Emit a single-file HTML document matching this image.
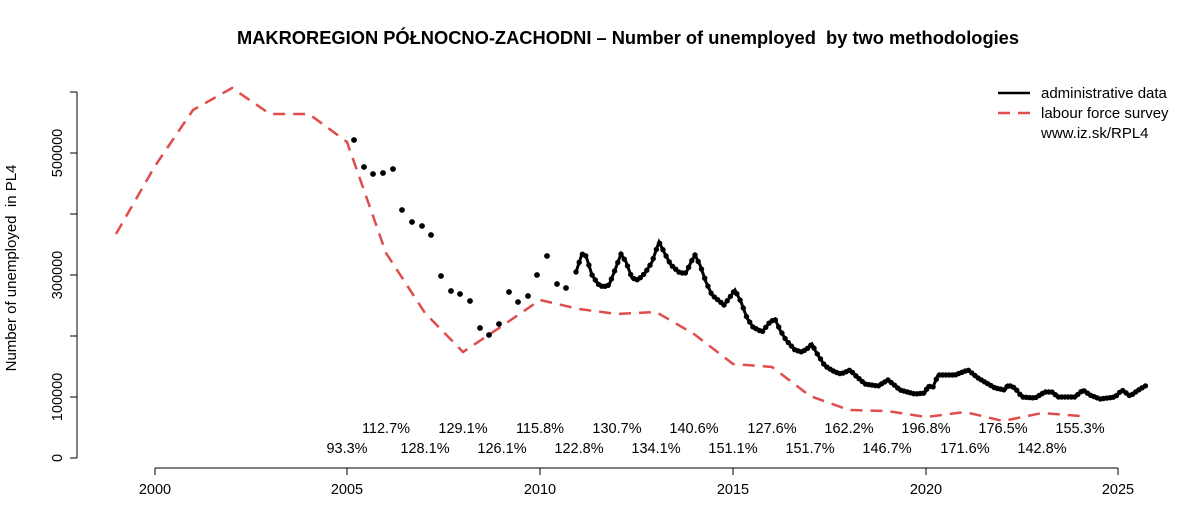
<!DOCTYPE html><html><head><style>body{margin:0;background:#fff}svg{font-family:"Liberation Sans",sans-serif}</style></head><body>
<svg id="s" width="1200" height="500" viewBox="0 0 1200 500" xmlns="http://www.w3.org/2000/svg">
<text x="628" y="44" font-size="18.3" font-weight="bold" text-anchor="middle">MAKROREGION PÓŁNOCNO-ZACHODNI – Number of unemployed&#160; by two methodologies</text>
<text transform="translate(16,268) rotate(-90)" font-size="15" text-anchor="middle">Number of unemployed&#160; in PL4</text>
<g stroke="#000" fill="none">
<line x1="77" y1="92" x2="77" y2="458"/>
<line x1="70" y1="458" x2="77" y2="458"/><line x1="70" y1="397" x2="77" y2="397"/><line x1="70" y1="336" x2="77" y2="336"/><line x1="70" y1="275" x2="77" y2="275"/><line x1="70" y1="214" x2="77" y2="214"/><line x1="70" y1="153" x2="77" y2="153"/><line x1="70" y1="92" x2="77" y2="92"/>
<line x1="155" y1="468" x2="1118" y2="468"/>
<line x1="155" y1="468" x2="155" y2="475"/><line x1="347" y1="468" x2="347" y2="475"/><line x1="540" y1="468" x2="540" y2="475"/><line x1="733" y1="468" x2="733" y2="475"/><line x1="926" y1="468" x2="926" y2="475"/><line x1="1118" y1="468" x2="1118" y2="475"/>
</g>
<g font-size="14.5" text-anchor="middle">
<text transform="translate(62,458) rotate(-90)">0</text>
<text transform="translate(62,397) rotate(-90)">100000</text>
<text transform="translate(62,275) rotate(-90)">300000</text>
<text transform="translate(62,153) rotate(-90)">500000</text>
<text x="155" y="494">2000</text><text x="347" y="494">2005</text><text x="540" y="494">2010</text><text x="733" y="494">2015</text><text x="926" y="494">2020</text><text x="1118" y="494">2025</text>
<text x="386" y="433">112.7%</text><text x="463" y="433">129.1%</text><text x="540" y="433">115.8%</text><text x="617" y="433">130.7%</text><text x="694" y="433">140.6%</text><text x="772" y="433">127.6%</text><text x="849" y="433">162.2%</text><text x="926" y="433">196.8%</text><text x="1003" y="433">176.5%</text><text x="1080" y="433">155.3%</text>
<text x="347" y="453">93.3%</text><text x="425" y="453">128.1%</text><text x="502" y="453">126.1%</text><text x="579" y="453">122.8%</text><text x="656" y="453">134.1%</text><text x="733" y="453">151.1%</text><text x="810" y="453">151.7%</text><text x="887" y="453">146.7%</text><text x="965" y="453">171.6%</text><text x="1042" y="453">142.8%</text>
</g>
<polyline fill="none" stroke="#df4d4d" stroke-width="2.5" stroke-dasharray="12,8" points="116,234 155,166 193,110 232,88 270,114 309,114 347,142 386,253 425,313 463,352 502,326 540,300 579,309 617,314 656,312 694,334 733,364 772,367 810,396 849,410 887,411 926,417 965,412 1003,421 1042,413 1080,416"/>
<g id="dots" fill="#000"></g>
<polyline id="bl" fill="none" stroke="#000" stroke-width="3"/>
<line x1="998" y1="93" x2="1030" y2="93" stroke="#000" stroke-width="2.5"/>
<line x1="998" y1="113" x2="1030" y2="113" stroke="#df4d4d" stroke-width="2.5" stroke-dasharray="12,8"/>
<g font-size="15"><text x="1041" y="98">administrative data</text><text x="1041" y="118">labour force survey</text><text x="1041" y="138">www.iz.sk/RPL4</text></g>
</svg>
<script>
var q=[[354,140],[364,167],[373,174],[383,173],[393,169],[402,210],[412,222],[422,226],[431,235],[441,276],[451,291],[460,294],[470,301],[480,328],[489,335],[499,324],[509,292],[518,302],[528,296],[537,275],[547,256],[557,284],[566,288]];
var k=[[576,272],[582,254],[586,256],[592,275],[598,284],[603,287],[609,285],[615,270],[621,254],[626,262],[632,278],[638,280],[645,273],[652,262],[659,242],[665,254],[671,265],[680,273],[686,273],[691,262],[695,255],[700,265],[706,282],[712,295],[724,305],[730,297],[735,290],[741,302],[747,318],[753,327],[762,332],[770,322],[775,319],[780,330],[786,340],[795,350],[802,352],[808,348],[812,344],[816,352],[825,366],[835,372],[841,374],[850,370],[855,375],[865,384],[878,386],[888,380],[893,384],[900,390],[915,394],[925,393],[928,386],[933,387],[938,375],[955,375],[968,370],[978,378],[995,388],[1005,390],[1008,385],[1015,388],[1022,397],[1035,398],[1045,392],[1052,392],[1058,397],[1075,397],[1083,390],[1090,395],[1100,399],[1115,397],[1122,390],[1130,396],[1140,389],[1147,385]];
var g=document.getElementById('dots'),h='';
q.forEach(p=>h+='<circle cx="'+p[0]+'" cy="'+p[1]+'" r="2.9"/>');
function yAt(x){for(var i=1;i<k.length;i++){if(x<=k[i][0]){var a=k[i-1],b=k[i];return a[1]+(b[1]-a[1])*(x-a[0])/(b[0]-a[0]);}}return k[k.length-1][1];}
for(var x=576;x<=1147.1;x+=38.6/12){h+='<circle cx="'+x.toFixed(1)+'" cy="'+yAt(x).toFixed(1)+'" r="2.7"/>';}
g.innerHTML=h;
document.getElementById('bl').setAttribute('points',k.map(p=>p.join(',')).join(' '));
</script>
</body></html>
